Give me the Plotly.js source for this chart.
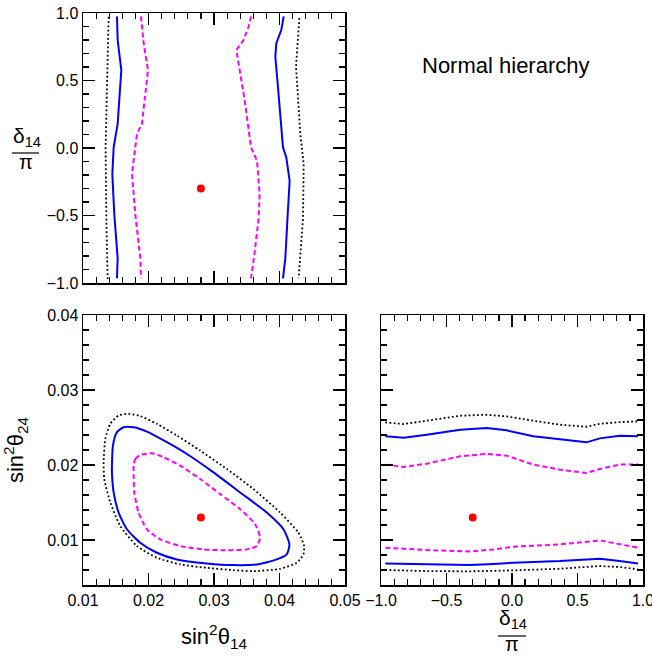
<!DOCTYPE html>
<html>
<head>
<meta charset="utf-8">
<script src="https://cdn.plot.ly/plotly-3.0.1.min.js"></script>
<style>html,body{margin:0;padding:0;background:#fff;}#chart{width:652px;height:656px;}</style>
</head>
<body>
<div id="chart"></div>
<script>
// ---------- Best-fit point ----------
const bestS14 = [0.028];
const bestS24 = [0.013];
const bestD14 = [-0.3];

// ---------- Top-left panel: sin^2(theta14) vs delta14/pi ----------
// dotted black (outer)
const tlDotL_s14 = [0.01391, 0.01366, 0.01345, 0.01356, 0.01376];
const tlDotL_d   = [0.97, 0.5, 0.0, -0.5, -0.97];
const tlDotR_s14 = [0.04303, 0.04252, 0.04318, 0.04369, 0.04359, 0.04293];
const tlDotR_d   = [0.963, 0.602, 0.104, -0.119, -0.517, -0.965];
// solid blue
const tlSolL_s14 = [0.01519, 0.01529, 0.01585, 0.01529, 0.01468, 0.01448, 0.01478, 0.01529, 0.01519];
const tlSolL_d   = [0.975, 0.80, 0.577, 0.179, 0.005, -0.194, -0.493, -0.816, -0.965];
const tlSolR_s14 = [0.04064, 0.04028, 0.03952, 0.03936, 0.03972, 0.04013, 0.04053, 0.04104, 0.04155, 0.04125, 0.04089, 0.04053];
const tlSolR_d   = [0.975, 0.876, 0.776, 0.677, 0.478, 0.229, 0.005, -0.070, -0.244, -0.493, -0.816, -0.965];
// dashed magenta
const tlDasL_s14 = [0.01885, 0.01926, 0.01992, 0.01900, 0.01824, 0.01799, 0.01748, 0.01799, 0.01875, 0.01885];
const tlDasL_d   = [0.975, 0.776, 0.577, 0.179, 0.104, 0.005, -0.194, -0.493, -0.816, -0.965];
const tlDasR_s14 = [0.03565, 0.03529, 0.03453, 0.03341, 0.03392, 0.03468, 0.03565, 0.03657, 0.03697, 0.03682, 0.03616, 0.03565];
const tlDasR_d   = [0.975, 0.900, 0.801, 0.726, 0.577, 0.353, 0.005, -0.095, -0.343, -0.517, -0.791, -0.965];

// ---------- Bottom-left panel: sin^2(theta14) vs sin^2(theta24) ----------
const blDot_s14 = [0.01315,0.01341,0.01417,0.01544,0.01696,0.01874,0.02128,0.02433,0.02789,0.03196,0.03602,0.04009,0.04288,0.04375,0.04365,0.04263,0.04009,0.03602,0.03297,0.02891,0.02484,0.02128,0.01823,0.01569,0.01417,0.01325,0.01315];
const blDot_s24 = [0.02036,0.02348,0.02549,0.02661,0.02683,0.02652,0.02549,0.02393,0.02192,0.01946,0.01679,0.01366,0.01098,0.00920,0.00808,0.00696,0.00616,0.00585,0.00598,0.00629,0.00674,0.00763,0.00920,0.01188,0.01500,0.01813,0.02036];
const blSol_s14 = [0.01442,0.01457,0.01518,0.01620,0.01773,0.01976,0.02281,0.02586,0.02992,0.03399,0.03806,0.04060,0.04151,0.04110,0.03958,0.03653,0.03297,0.02891,0.02433,0.02128,0.01874,0.01671,0.01544,0.01468,0.01442,0.01442];
const blSol_s24 = [0.01991,0.02259,0.02438,0.02504,0.02504,0.02446,0.02304,0.02147,0.01902,0.01634,0.01366,0.01143,0.00942,0.00808,0.00741,0.00674,0.00665,0.00688,0.00741,0.00830,0.00964,0.01143,0.01366,0.01634,0.01902,0.01991];
const blDas_s14 = [0.01773,0.01798,0.01874,0.02052,0.02230,0.02484,0.02789,0.03094,0.03399,0.03628,0.03704,0.03653,0.03501,0.03196,0.02840,0.02484,0.02179,0.01976,0.01849,0.01783,0.01773,0.01773];
const blDas_s24 = [0.01991,0.02080,0.02134,0.02156,0.02103,0.01991,0.01813,0.01612,0.01411,0.01210,0.01031,0.00920,0.00875,0.00862,0.00875,0.00920,0.01009,0.01143,0.01366,0.01634,0.01857,0.01991];

// ---------- Bottom-right panel: delta14/pi vs sin^2(theta24) ----------
const brTop_d    = [-0.967, -0.827, -0.650, -0.396, -0.193, -0.041, 0.162, 0.365, 0.569, 0.670, 0.822, 0.962];
const brDotT_s24 = [0.02568, 0.02546, 0.02590, 0.02657, 0.02670, 0.02648, 0.02590, 0.02537, 0.02510, 0.02550, 0.02572, 0.02581];
const brSolT_s24 = [0.02382, 0.02364, 0.02404, 0.02470, 0.02493, 0.02462, 0.02382, 0.02346, 0.02302, 0.02355, 0.02391, 0.02382];
const brDasT_s24 = [0.02005, 0.01974, 0.02018, 0.02116, 0.02147, 0.02125, 0.02005, 0.01938, 0.01894, 0.01947, 0.02005, 0.02009];
const brBot_d    = [-0.967, -0.650, -0.320, -0.142, 0.010, 0.365, 0.670, 0.822, 0.962];
const brDasB_s24 = [0.00897, 0.00866, 0.00848, 0.00874, 0.00910, 0.00941, 0.00994, 0.00941, 0.00897];
const brSolB_s24 = [0.00688, 0.00675, 0.00666, 0.00680, 0.00697, 0.00719, 0.00750, 0.00719, 0.00688];
const brDotB_s24 = [0.00600, 0.00586, 0.00582, 0.00588, 0.00595, 0.00617, 0.00653, 0.00639, 0.00608];

// ---------- Labels ----------
const titleText = 'Normal hierarchy';
const s14Label = 'sin<sup>2</sup>θ<sub>14</sub>';
const s24Label = 'sin<sup>2</sup>θ<sub>24</sub>';
const deltaNum = 'δ<sub>14</sub>';
const deltaDen = 'π';

// ---------- Styles ----------
const dotStyle = {color: '#000000', width: 1.8, dash: '1.8px,2.4px'};
const solStyle = {color: '#0000ff', width: 2, dash: 'solid'};
const dasStyle = {color: '#ff00ff', width: 2, dash: '5px,3px'};

function line(x, y, style, xa, ya, shape) {
  const ln = Object.assign({shape: shape || 'linear'}, style);
  if (shape === 'spline') ln.smoothing = 0.6;
  return {x: x, y: y, xaxis: xa, yaxis: ya, type: 'scatter', mode: 'lines',
          line: ln, hoverinfo: 'skip', showlegend: false};
}
function pt(x, y, xa, ya) {
  return {x: x, y: y, xaxis: xa, yaxis: ya, type: 'scatter', mode: 'markers',
          marker: {color: '#ff0000', size: 8}, hoverinfo: 'skip', showlegend: false};
}

const traces = [
  line(tlDotL_s14, tlDotL_d, dotStyle, 'x', 'y'),
  line(tlDotR_s14, tlDotR_d, dotStyle, 'x', 'y'),
  line(tlSolL_s14, tlSolL_d, solStyle, 'x', 'y'),
  line(tlSolR_s14, tlSolR_d, solStyle, 'x', 'y'),
  line(tlDasL_s14, tlDasL_d, dasStyle, 'x', 'y'),
  line(tlDasR_s14, tlDasR_d, dasStyle, 'x', 'y'),
  pt(bestS14, bestD14, 'x', 'y'),

  line(blDot_s14, blDot_s24, dotStyle, 'x2', 'y2', 'spline'),
  line(blSol_s14, blSol_s24, solStyle, 'x2', 'y2', 'spline'),
  line(blDas_s14, blDas_s24, dasStyle, 'x2', 'y2', 'spline'),
  pt(bestS14, bestS24, 'x2', 'y2'),

  line(brTop_d, brDotT_s24, dotStyle, 'x3', 'y3'),
  line(brTop_d, brSolT_s24, solStyle, 'x3', 'y3'),
  line(brTop_d, brDasT_s24, dasStyle, 'x3', 'y3'),
  line(brBot_d, brDasB_s24, dasStyle, 'x3', 'y3'),
  line(brBot_d, brSolB_s24, solStyle, 'x3', 'y3'),
  line(brBot_d, brDotB_s24, dotStyle, 'x3', 'y3'),
  pt(bestD14, bestS24, 'x3', 'y3')
];

const W = 652, H = 656;
const px = v => v / W;
const py = v => 1 - v / H;
const FONT = 'Liberation Sans, Arial, Helvetica, sans-serif';
const minorTicks = d => ({dtick: d, ticks: 'inside', ticklen: 6, tickwidth: 1.2, tickcolor: '#000', showgrid: false});

function ax(extra) {
  return Object.assign({
    showline: true, linecolor: '#000', linewidth: 1.5, mirror: 'allticks',
    ticks: 'inside', ticklen: 12, tickwidth: 1.2, tickcolor: '#000',
    showgrid: false, zeroline: false, fixedrange: true, ticklabeloverflow: 'allow',
    tickfont: {family: FONT, size: 16, color: '#000'}
  }, extra);
}

const s14Range = [0.01, 0.05];
const s24Range = [0.004, 0.04];
const dRange = [-1, 1];

const layout = {
  width: W, height: H,
  margin: {l: 0, r: 0, t: 0, b: 0},
  paper_bgcolor: '#fff', plot_bgcolor: '#fff',
  font: {family: FONT, color: '#000'},
  showlegend: false,
  xaxis: ax({domain: [px(83), px(345)], anchor: 'y', range: s14Range, dtick: 0.01, tick0: 0,
             showticklabels: false, minor: minorTicks(0.002)}),
  yaxis: ax({domain: [py(283), py(13)], anchor: 'x', range: dRange, dtick: 0.5, tick0: 0, tickformat: '.1f',
             minor: minorTicks(0.1)}),
  xaxis2: ax({domain: [px(83), px(345)], anchor: 'y2', range: s14Range, dtick: 0.01, tick0: 0, tickformat: '.2f',
              minor: minorTicks(0.002),
              title: {text: s14Label, font: {family: FONT, size: 22}, standoff: 21}}),
  yaxis2: ax({domain: [py(585), py(315)], anchor: 'x2', range: s24Range, dtick: 0.01, tick0: 0, tickformat: '.2f',
              minor: minorTicks(0.002),
              title: {text: s24Label, font: {family: FONT, size: 22}, standoff: 17}}),
  xaxis3: ax({domain: [px(381), px(643)], anchor: 'y3', range: dRange, dtick: 0.5, tick0: 0, tickformat: '.1f',
              minor: minorTicks(0.1)}),
  yaxis3: ax({domain: [py(585), py(315)], anchor: 'x3', range: s24Range, dtick: 0.01, tick0: 0,
              showticklabels: false, minor: minorTicks(0.002)}),
  annotations: [
    {text: titleText, xref: 'paper', yref: 'paper', x: px(506), y: py(66), xanchor: 'center', yanchor: 'middle',
     showarrow: false, font: {family: FONT, size: 22, color: '#000'}},
    {text: deltaNum, xref: 'paper', yref: 'paper', x: px(27), y: py(152), xanchor: 'center', yanchor: 'bottom',
     showarrow: false, font: {family: FONT, size: 21, color: '#000'}},
    {text: deltaDen, xref: 'paper', yref: 'paper', x: px(25.5), y: py(162), xanchor: 'center', yanchor: 'middle',
     showarrow: false, font: {family: FONT, size: 20, color: '#000'}},
    {text: deltaNum, xref: 'paper', yref: 'paper', x: px(513), y: py(634), xanchor: 'center', yanchor: 'bottom',
     showarrow: false, font: {family: FONT, size: 21, color: '#000'}},
    {text: deltaDen, xref: 'paper', yref: 'paper', x: px(511.5), y: py(644), xanchor: 'center', yanchor: 'middle',
     showarrow: false, font: {family: FONT, size: 20, color: '#000'}}
  ],
  shapes: [
    {type: 'line', xref: 'paper', yref: 'paper', x0: px(12), x1: px(39), y0: py(153), y1: py(153),
     line: {color: '#000', width: 1.2}},
    {type: 'line', xref: 'paper', yref: 'paper', x0: px(498), x1: px(526), y0: py(636), y1: py(636),
     line: {color: '#000', width: 1.2}}
  ]
};

Plotly.newPlot('chart', traces, layout, {displayModeBar: false, staticPlot: true});
</script>
</body>
</html>
